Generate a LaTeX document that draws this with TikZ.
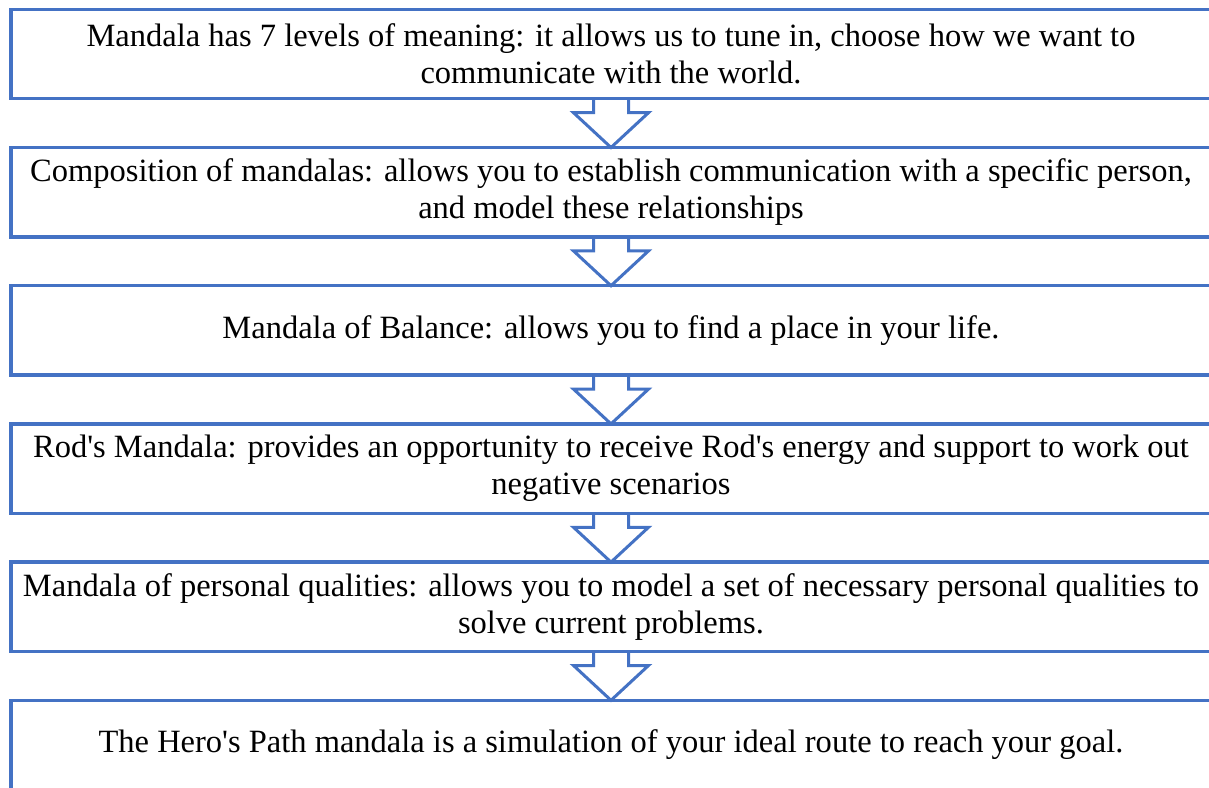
\documentclass[tikz,border=0pt]{standalone}
\usepackage{fontspec}
\setmainfont{Liberation Serif}
\usetikzlibrary{calc}
\definecolor{mblue}{HTML}{4472C4}
\tikzset{
  stage/.style={minimum width=1200pt,minimum height=89pt,inner sep=0pt,
    align=center,font=\fontsize{32.5}{37}\selectfont},
  frame/.style={draw=mblue,line width=3.5pt},
  downarrow/.style={draw=mblue,line width=3pt,fill=white,line join=miter},
}
\newcommand{\q}{\textquotesingle}
\begin{document}
\begin{tikzpicture}[x=1pt,y=-1pt]
\useasboundingbox (0,0) rectangle (1209,787);
\clip (0,0) rectangle (1209,787);
%stages
\node[stage] (meaning) at (611,54) {Mandala has 7 levels of meaning: it allows us to tune in, choose how we want to\\communicate with the world.};
\node[stage] (compo) at (611,192.2) {Composition of mandalas: allows you to establish communication with a specific person,\\and model these relationships};
\node[stage] (balance) at (611,330.4) {Mandala of Balance: allows you to find a place in your life.};
\node[stage] (rod) at (611,468.6) {Rod\q s Mandala: provides an opportunity to receive Rod\q s energy and support to work out\\negative scenarios};
\node[stage] (qualities) at (611,606.8) {Mandala of personal qualities: allows you to model a set of necessary personal qualities to\\solve current problems.};
\node[stage] (hero) at (611,745) {The Hero\q s Path mandala is a simulation of your ideal route to reach your goal.};
%arrows
\foreach \a/\b in {meaning/compo,compo/balance,balance/rod,rod/qualities,qualities/hero}
  \draw[downarrow] ([xshift=-17.5pt]\a.south)--++(0,14)--++(-20,0)--(\b.north)
    --($(\a.south)+(37.5,14)$)--++(-20,0)--++(0,-14);
%frames, running off the right edge
\foreach \n in {meaning,compo,balance,rod,qualities,hero}
  \draw[frame] (\n.north west) rectangle ([xshift=40pt]\n.south east);
\end{tikzpicture}
\end{document}
